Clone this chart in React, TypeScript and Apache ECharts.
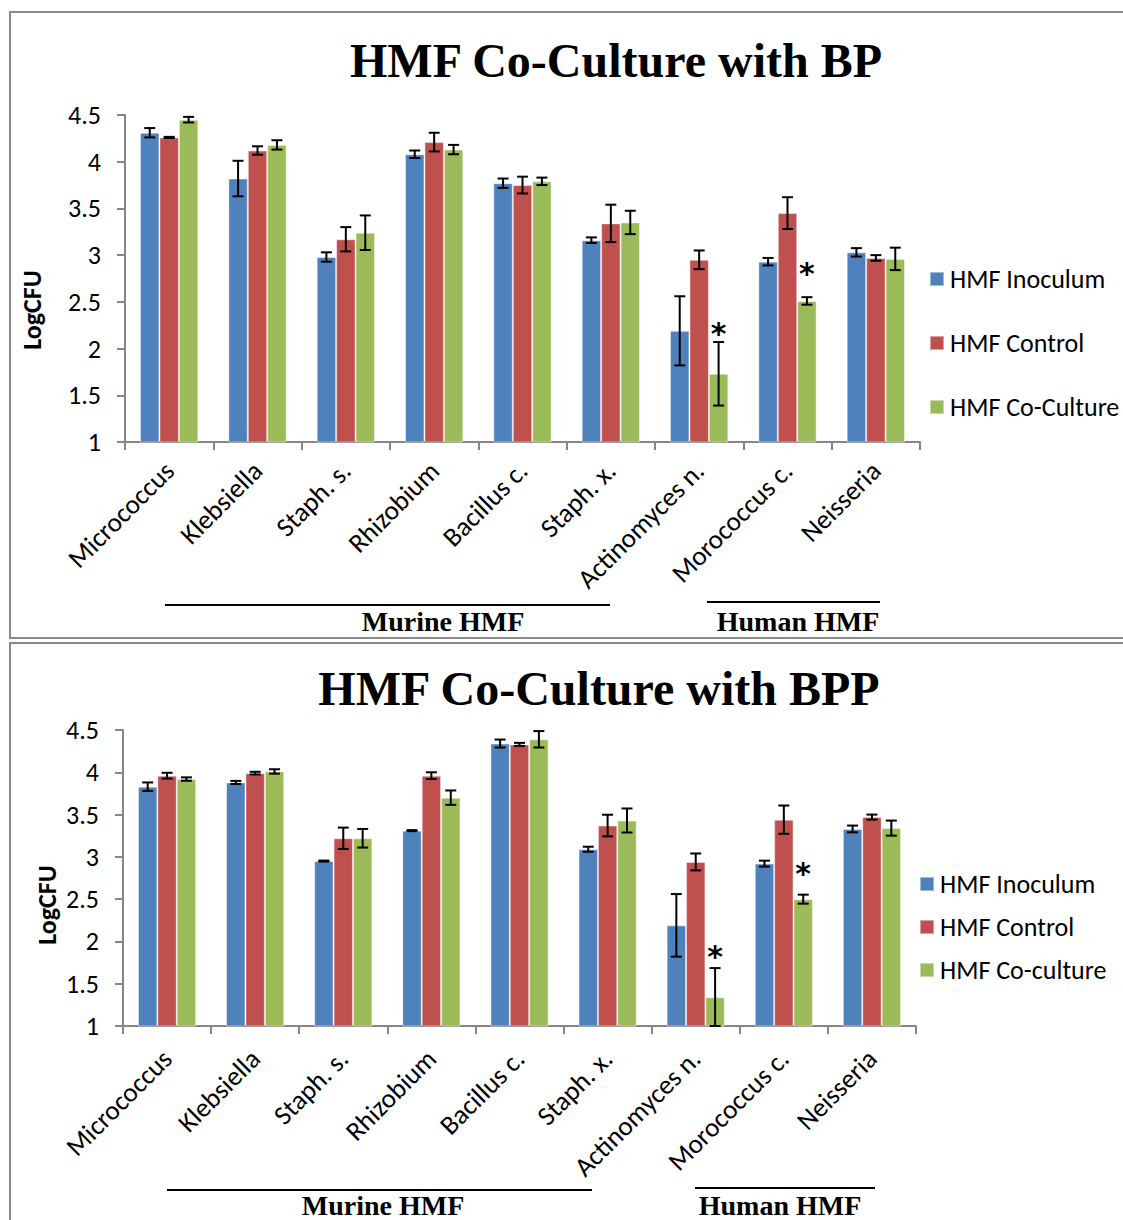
import React, { useEffect, useRef } from "react";
import * as echarts from "echarts";

const categories = [
  "Micrococcus", "Klebsiella", "Staph. s.", "Rhizobium", "Bacillus c.",
  "Staph. x.", "Actinomyces n.", "Morococcus c.", "Neisseria",
];
const namesBP = ["HMF Inoculum", "HMF Control", "HMF Co-Culture"];
const namesBPP = ["HMF Inoculum", "HMF Control", "HMF Co-culture"];
const titleBP = "HMF Co-Culture with BP";
const titleBPP = "HMF Co-Culture with BPP";
const groupLabels = ["Murine HMF", "Human HMF"];
const yAxisName = "LogCFU";
const yMin = 1;
const yMax = 4.5;
const yStep = 0.5;

// BP chart
const bpInoculum = [4.31, 3.82, 2.98, 4.08, 3.77, 3.16, 2.19, 2.93, 3.03];
const bpInoculumErr = [0.05, 0.19, 0.05, 0.04, 0.05, 0.03, 0.37, 0.04, 0.045];
const bpControl = [4.26, 4.12, 3.17, 4.21, 3.75, 3.34, 2.95, 3.45, 2.97];
const bpControlErr = [0.006, 0.045, 0.13, 0.1, 0.09, 0.2, 0.1, 0.17, 0.03];
const bpCoCulture = [4.45, 4.18, 3.24, 4.13, 3.79, 3.35, 1.73, 2.51, 2.96];
const bpCoCultureErr = [0.03, 0.05, 0.185, 0.05, 0.04, 0.125, 0.34, 0.04, 0.12];
const bpStars = [[6, 2.16], [7, 2.8]];

// BPP chart
const bppInoculum = [3.83, 3.88, 2.95, 3.31, 4.34, 3.09, 2.19, 2.92, 3.33];
const bppInoculumErr = [0.05, 0.018, 0.006, 0.006, 0.047, 0.03, 0.37, 0.035, 0.04];
const bppControl = [3.96, 3.99, 3.22, 3.96, 4.33, 3.37, 2.94, 3.44, 3.47];
const bppControlErr = [0.034, 0.016, 0.126, 0.04, 0.018, 0.128, 0.1, 0.167, 0.03];
const bppCoCulture = [3.92, 4.01, 3.22, 3.7, 4.39, 3.43, 1.34, 2.5, 3.34];
const bppCoCultureErr = [0.02, 0.026, 0.11, 0.085, 0.097, 0.142, 0.345, 0.053, 0.089];
const bppStars = [[6, 1.82], [7, 2.8]];

const colors = ["#4F81BD", "#C0504D", "#9BBB59"];
const GAP = 0.34;
const FONT = "Carlito, Lato, sans-serif";
const SERIF = "'Liberation Serif', 'Times New Roman', serif";
const FS = 26;

function errSeries(values: number[], errs: number[], k: number, gi: number) {
  return {
    type: "custom",
    name: "err" + gi + k,
    xAxisIndex: gi,
    yAxisIndex: gi,
    z: 10,
    silent: true,
    data: values.map((v, i) => [i, v, errs[i]]),
    renderItem: (params: any, api: any) => {
      const cat = api.value(0);
      const v = api.value(1);
      const e = api.value(2);
      const band = api.size([1, 0])[0];
      const bw = (band * (1 - GAP)) / 3;
      const cx = api.coord([cat, v])[0] + (k - 1) * bw;
      const yt = api.coord([cat, v + e])[1];
      const yb = api.coord([cat, Math.max(v - e, yMin)])[1];
      const hw = 5.5;
      const st = { stroke: "#000", lineWidth: 2 };
      return {
        type: "group",
        children: [
          { type: "line", shape: { x1: cx, y1: yt, x2: cx, y2: yb }, style: st },
          { type: "line", shape: { x1: cx - hw, y1: yt, x2: cx + hw, y2: yt }, style: st },
          { type: "line", shape: { x1: cx - hw, y1: yb, x2: cx + hw, y2: yb }, style: st },
        ],
      };
    },
  };
}

function starSeries(stars: number[][], gi: number) {
  return {
    type: "custom",
    name: "star" + gi,
    xAxisIndex: gi,
    yAxisIndex: gi,
    z: 11,
    silent: true,
    data: stars,
    renderItem: (params: any, api: any) => {
      const cat = api.value(0);
      const v = api.value(1);
      const band = api.size([1, 0])[0];
      const bw = (band * (1 - GAP)) / 3;
      const p = api.coord([cat, v]);
      return {
        type: "text",
        x: p[0] + bw,
        y: p[1],
        style: {
          text: "*",
          fill: "#000",
          font: "bold 30px 'DejaVu Sans', sans-serif",
          align: "center",
          verticalAlign: "middle",
        },
      };
    },
  };
}

function barSeries(names: string[], data: number[][], gi: number) {
  return names.map((n, k) => ({
    type: "bar",
    name: n,
    xAxisIndex: gi,
    yAxisIndex: gi,
    data: data[k],
    barGap: "0%",
    barCategoryGap: GAP * 100 + "%",
    itemStyle: { color: colors[k], borderColor: "rgba(255,255,255,0.45)", borderWidth: 1 },
  }));
}

function xAxisCfg(gi: number, margin: number) {
  return {
    type: "category",
    gridIndex: gi,
    data: categories,
    axisLine: { lineStyle: { color: "#868686", width: 2 } },
    axisTick: { show: true, length: 8, interval: 0, lineStyle: { color: "#868686", width: 2 } },
    axisLabel: {
      interval: 0,
      rotate: 45,
      margin,
      color: "#000",
      fontSize: 27,
      fontFamily: FONT,
    },
  };
}

function yAxisCfg(gi: number) {
  return {
    type: "value",
    gridIndex: gi,
    min: yMin,
    max: yMax,
    interval: yStep,
    splitLine: { show: false },
    axisLine: { show: true, lineStyle: { color: "#868686", width: 2 } },
    axisTick: { show: true, length: 8, lineStyle: { color: "#868686", width: 2 } },
    axisLabel: { margin: 24, color: "#000", fontSize: FS, fontFamily: FONT },
  };
}

function legendCfg(names: string[], left: number, top: number, gap: number) {
  return {
    data: names,
    orient: "vertical",
    left,
    top,
    padding: 0,
    itemWidth: 14,
    itemHeight: 14,
    itemGap: gap,
    icon: "rect",
    selectedMode: false,
    textStyle: { fontSize: FS, lineHeight: 26, color: "#000", fontFamily: FONT, padding: [0, 0, 0, 1] },
  };
}

export default function App() {
  const ref = useRef<HTMLDivElement>(null);
  useEffect(() => {
    if (!ref.current) return;
    const chart = echarts.init(ref.current, undefined, { renderer: "svg" });
    const option: any = {
      animation: false,
      backgroundColor: "#fff",
      grid: [
        { left: 125, top: 115, width: 795, height: 327, outerBoundsMode: "none" },
        { left: 123, top: 730, width: 793, height: 296, outerBoundsMode: "none" },
      ],
      xAxis: [xAxisCfg(0, 24), xAxisCfg(1, 28)],
      yAxis: [yAxisCfg(0), yAxisCfg(1)],
      legend: [legendCfg(namesBP, 929, 266, 38), legendCfg(namesBPP, 919, 871, 17)],
      graphic: [
        { type: "rect", shape: { x: 10, y: 12, width: 1125, height: 626 }, style: { fill: "none", stroke: "#8a8a8a", lineWidth: 2 }, silent: true },
        { type: "rect", shape: { x: 10, y: 643, width: 1125, height: 600 }, style: { fill: "none", stroke: "#8a8a8a", lineWidth: 2 }, silent: true },
        { type: "text", x: 616, y: 60, style: { text: titleBP, font: "bold 48px " + SERIF, fill: "#000", align: "center", verticalAlign: "middle" } },
        { type: "text", x: 599, y: 688, style: { text: titleBPP, font: "bold 48px " + SERIF, fill: "#000", align: "center", verticalAlign: "middle" } },
        { type: "text", x: 32, y: 310, rotation: Math.PI / 2, style: { text: yAxisName, font: "bold 26px " + FONT, fill: "#000", align: "center", verticalAlign: "middle" } },
        { type: "text", x: 47, y: 905, rotation: Math.PI / 2, style: { text: yAxisName, font: "bold 26px " + FONT, fill: "#000", align: "center", verticalAlign: "middle" } },
        { type: "line", shape: { x1: 165, y1: 605, x2: 610, y2: 605 }, style: { stroke: "#000", lineWidth: 2 } },
        { type: "line", shape: { x1: 707, y1: 602, x2: 880, y2: 602 }, style: { stroke: "#000", lineWidth: 2 } },
        { type: "line", shape: { x1: 167, y1: 1190, x2: 592, y2: 1190 }, style: { stroke: "#000", lineWidth: 2 } },
        { type: "line", shape: { x1: 695, y1: 1188, x2: 875, y2: 1188 }, style: { stroke: "#000", lineWidth: 2 } },
        { type: "text", x: 443, y: 621, style: { text: groupLabels[0], font: "bold 28px " + SERIF, fill: "#000", align: "center", verticalAlign: "middle" } },
        { type: "text", x: 798, y: 621, style: { text: groupLabels[1], font: "bold 28px " + SERIF, fill: "#000", align: "center", verticalAlign: "middle" } },
        { type: "text", x: 383, y: 1205, style: { text: groupLabels[0], font: "bold 28px " + SERIF, fill: "#000", align: "center", verticalAlign: "middle" } },
        { type: "text", x: 780, y: 1205, style: { text: groupLabels[1], font: "bold 28px " + SERIF, fill: "#000", align: "center", verticalAlign: "middle" } },
      ],
      series: [
        ...barSeries(namesBP, [bpInoculum, bpControl, bpCoCulture], 0),
        errSeries(bpInoculum, bpInoculumErr, 0, 0),
        errSeries(bpControl, bpControlErr, 1, 0),
        errSeries(bpCoCulture, bpCoCultureErr, 2, 0),
        starSeries(bpStars, 0),
        ...barSeries(namesBPP, [bppInoculum, bppControl, bppCoCulture], 1),
        errSeries(bppInoculum, bppInoculumErr, 0, 1),
        errSeries(bppControl, bppControlErr, 1, 1),
        errSeries(bppCoCulture, bppCoCultureErr, 2, 1),
        starSeries(bppStars, 1),
      ],
    };
    chart.setOption(option);
    return () => chart.dispose();
  }, []);
  return (
    <div style={{ position: "absolute", left: 0, top: 0, width: 1123, height: 1220, overflow: "hidden" }}>
      <div ref={ref} style={{ width: 1123, height: 1220 }} />
    </div>
  );
}
